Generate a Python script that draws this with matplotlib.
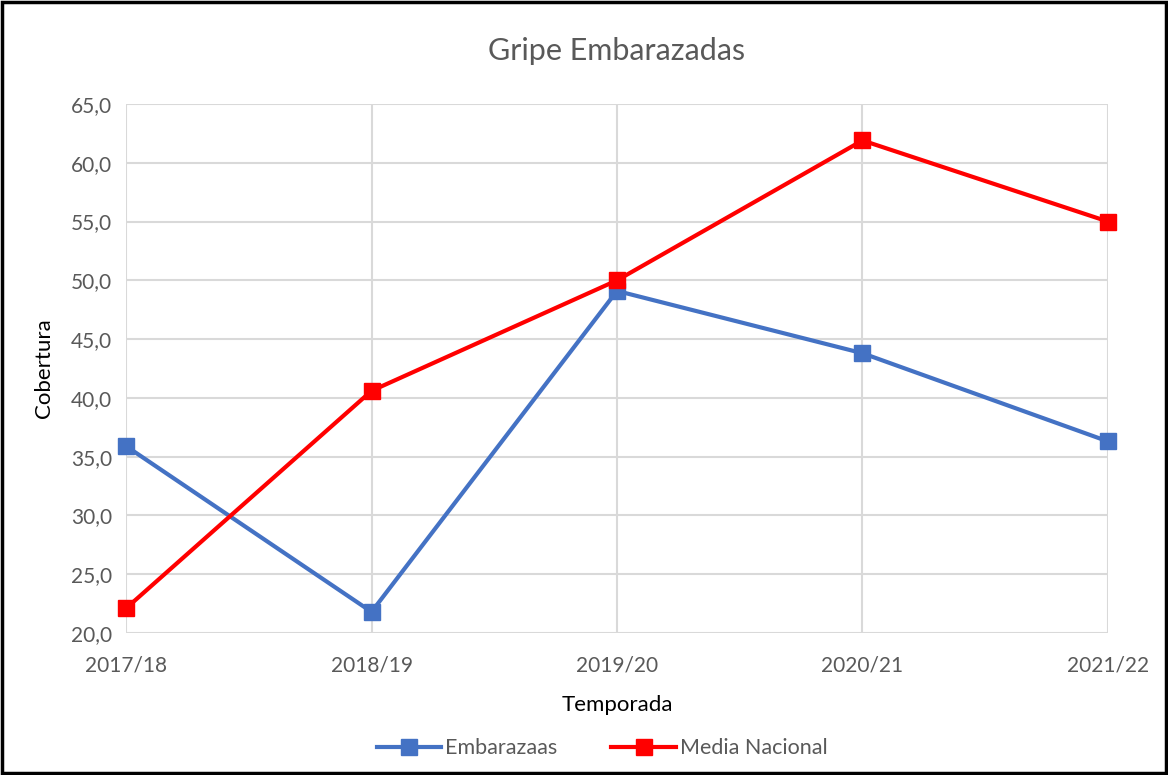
import matplotlib
matplotlib.use("Agg")
from matplotlib import pyplot as plt
from matplotlib.patches import Rectangle
from matplotlib.ticker import FuncFormatter

temporadas = ["2017/18", "2018/19", "2019/20", "2020/21", "2021/22"]
embarazadas = [35.9, 21.8, 49.1, 43.8, 36.3]
media_nacional = [22.1, 40.6, 50.0, 61.9, 55.0]

txt = "#595959"
grid = "#d9d9d9"
plt.rcParams['font.family'] = ['Lato', 'DejaVu Sans']

fig = plt.figure(figsize=(11.68, 7.75), dpi=100)
ax = fig.add_axes([0.1079, 0.1832, 0.8407, 0.6826])

x = list(range(len(temporadas)))
ax.plot(x, embarazadas, color="#4472c4", lw=3, marker="s", ms=11,
        label="Embarazaas", zorder=3, clip_on=False)
ax.plot(x, media_nacional, color="#ff0000", lw=3, marker="s", ms=11,
        label="Media Nacional", zorder=3, clip_on=False)

ax.set_xlim(0, len(temporadas) - 1)
ax.set_ylim(20, 65)
ax.set_yticks(range(20, 66, 5))
ax.yaxis.set_major_formatter(FuncFormatter(lambda v, p: f"{v:.1f}".replace(".", ",")))
ax.set_xticks(x)
ax.set_xticklabels(temporadas)
ax.grid(True, color=grid, lw=1.5)
ax.set_axisbelow(True)
for s in ax.spines.values():
    s.set_visible(False)
ax.tick_params(axis="x", length=0, labelsize=15, colors=txt, pad=16)
ax.tick_params(axis="y", length=0, labelsize=15, colors=txt, pad=10)

ax.set_title("Gripe Embarazadas", fontsize=22, color=txt, pad=32)
ax.set_xlabel("Temporada", fontsize=16, color="black", labelpad=14)
ax.set_ylabel("Cobertura", fontsize=16, color="black", labelpad=12)

leg = ax.legend(loc="upper center", bbox_to_anchor=(0.485, -0.162), ncol=2,
                frameon=False, fontsize=15.5, handlelength=3, columnspacing=2.5,
                handletextpad=0.2)
for t in leg.get_texts():
    t.set_color(txt)

fig.patches.append(Rectangle((0.002, 0.002), 0.996, 0.996, transform=fig.transFigure,
                             fill=False, edgecolor="black", lw=2.5))

fig.savefig("out.png", dpi=100)
